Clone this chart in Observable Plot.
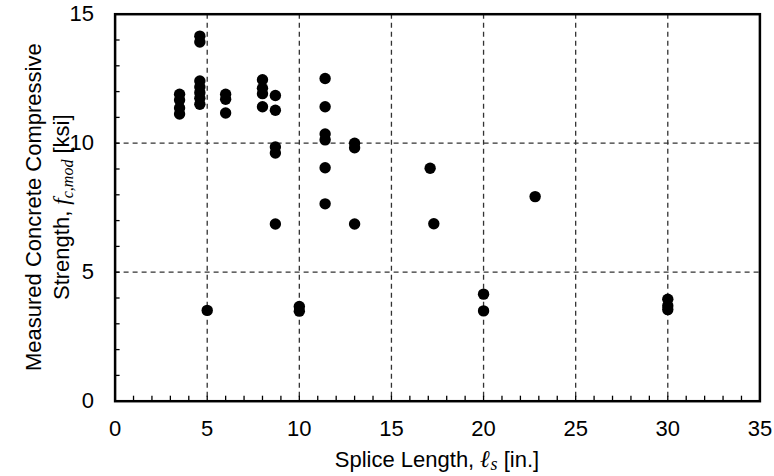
<!DOCTYPE html>
<html><head><meta charset="utf-8">
<script src="https://cdn.jsdelivr.net/npm/d3@7"></script>
<script src="https://cdn.jsdelivr.net/npm/@observablehq/plot@0.6"></script>
<style>body{margin:0;background:#fff}</style>
</head><body><div id="chart"></div>
<script>
// Data
const spliceLength = [
  3.5, 3.5, 3.5, 3.5,
  4.6, 4.6, 4.6, 4.6, 4.6, 4.6, 4.6,
  5.0,
  6.0, 6.0, 6.0,
  8.0, 8.0, 8.0, 8.0,
  8.7, 8.7, 8.7, 8.7, 8.7,
  10.0, 10.0,
  11.4, 11.4, 11.4, 11.4, 11.4, 11.4,
  13.0, 13.0, 13.0,
  17.1, 17.3,
  20.0, 20.0,
  22.8,
  30.0, 30.0, 30.0
];
const fcMod = [
  11.9, 11.67, 11.36, 11.13,
  14.15, 13.92, 12.41, 12.18, 11.96, 11.74, 11.51,
  3.52,
  11.9, 11.7, 11.17,
  12.46, 12.13, 11.92, 11.41,
  11.85, 11.28, 9.85, 9.62, 6.87,
  3.67, 3.49,
  12.51, 11.41, 10.36, 10.13, 9.05, 7.65,
  10.0, 9.82, 6.87,
  9.03, 6.88,
  4.15, 3.5,
  7.93,
  3.95, 3.7, 3.55
];
const xTicks = [0, 5, 10, 15, 20, 25, 30, 35];
const yTicks = [0, 5, 10, 15];
const xGrid = [5, 10, 15, 20, 25, 30];
const yGrid = [5, 10];
const xMinor = [1,2,3,4,5,6,7,8,9,10,11,12,13,14,15,16,17,18,19,20,21,22,23,24,25,26,27,28,29,30,31,32,33,34];
const yMinor = [1,2,3,4,5,6,7,8,9,10,11,12,13,14];

const points = spliceLength.map((x, i) => ({x, y: fcMod[i]}));

const W = 774, H = 476;
const mL = 114.6, mR = 14.6, mT = 13.7, mB = 75.3;
const innerW = W - mL - mR, innerH = H - mT - mB;
const FS = 22;
const sans = "'Liberation Sans', Arial, Helvetica, sans-serif";
const serif = "'Liberation Serif', 'Times New Roman', serif";

const chart = Plot.plot({
  width: W, height: H,
  marginLeft: mL, marginRight: mR, marginTop: mT, marginBottom: mB,
  style: {fontFamily: sans, fontSize: FS + "px", color: "#000", background: "#fff"},
  x: {domain: [0, 35]},
  y: {domain: [0, 15]},
  marks: [
    Plot.ruleX(xGrid, {x: d => d, stroke: "#333", strokeWidth: 1.3, strokeDasharray: "5,4"}),
    Plot.ruleY(yGrid, {y: d => d, stroke: "#333", strokeWidth: 1.3, strokeDasharray: "5,4"}),
    Plot.ruleX(xMinor, {x: d => d, insetTop: innerH - 5, stroke: "#000", strokeWidth: 1.3}),
    Plot.ruleY(yMinor, {y: d => d, insetRight: innerW - 5, stroke: "#000", strokeWidth: 1.3}),
    Plot.axisX({ticks: xTicks, tickSize: 0, tickPadding: 19, label: null, fontSize: FS}),
    Plot.axisY({ticks: yTicks, tickSize: 0, tickPadding: 21, label: null, fontSize: FS}),
    Plot.dot(points, {x: "x", y: "y", r: 5.7, fill: "#000", stroke: "none"}),
    Plot.frame({stroke: "#000", strokeWidth: 2.5})
  ]
});
document.getElementById("chart").appendChild(chart);

const svg = d3.select(chart);
// X axis title
const xt = svg.append("text")
  .attr("x", mL + innerW / 2).attr("y", 467)
  .attr("text-anchor", "middle")
  .style("font-family", sans).style("font-size", FS + "px").attr("fill", "#000");
xt.append("tspan").text("Splice Length, ");
xt.append("tspan").text("ℓ").style("font-family", serif).style("font-style", "italic").style("font-weight", "bold").style("font-size", "24px");
xt.append("tspan").text("s").attr("dy", 3).style("font-family", serif).style("font-style", "italic").style("font-size", "18px");
xt.append("tspan").text(" [in.]").attr("dy", -3);

// Y axis title (two lines)
const cy = mT + innerH / 2;
svg.append("text")
  .attr("transform", `translate(41,${cy}) rotate(-90)`)
  .attr("text-anchor", "middle")
  .style("font-family", sans).style("font-size", FS + "px").attr("fill", "#000")
  .text("Measured Concrete Compressive");
const yt = svg.append("text")
  .attr("transform", `translate(69,${cy}) rotate(-90)`)
  .attr("text-anchor", "middle")
  .style("font-family", sans).style("font-size", FS + "px").attr("fill", "#000");
yt.append("tspan").text("Strength, ");
yt.append("tspan").text("f").style("font-family", serif).style("font-style", "italic").style("font-size", "23px");
yt.append("tspan").text("c,mod").attr("dy", 4).style("font-family", serif).style("font-style", "italic").style("font-size", "16px");
yt.append("tspan").text(" [ksi]").attr("dy", -4);
</script>
</body></html>
